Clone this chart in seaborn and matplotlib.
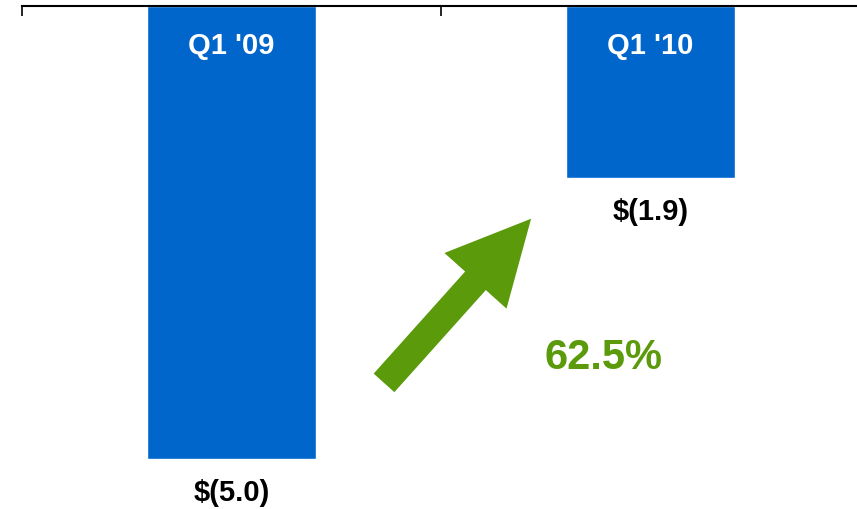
import matplotlib
matplotlib.use('Agg')
from matplotlib import pyplot as plt
import seaborn as sns
import pandas as pd

# data
quarters = ["Q1 '09", "Q1 '10"]
values = [-5.0, -1.9]
value_labels = ['$(5.0)', '$(1.9)']
change_label = '62.5%'

bar_color = '#0066CC'
green = '#5B9A0B'

sns.set_theme(style='white')
plt.rcParams['font.family'] = ['Liberation Sans', 'DejaVu Sans']

df = pd.DataFrame({'quarter': quarters, 'value': values})

fig = plt.figure(figsize=(8.57, 5.09), dpi=100)
ax = fig.add_axes([22 / 857, 0.009, 838 / 857, 0.980])

sns.barplot(data=df, x='quarter', y='value', color=bar_color, width=0.405,
            saturation=1, ax=ax, zorder=1)

ax.set_xlim(-0.5, 1.5)
ax.set_ylim(-5.5, 0)
ax.set_xlabel('')
ax.set_ylabel('')
ax.set_yticks([])

# top axis line with separator ticks
for side in ['left', 'right', 'bottom']:
    ax.spines[side].set_visible(False)
ax.spines['top'].set_visible(True)
ax.spines['top'].set_color('black')
ax.spines['top'].set_linewidth(1.5)
ax.spines['top'].set_zorder(3)
ax.set_xticks([-0.5, 0.5, 1.5])
ax.set_xticklabels([])
ax.tick_params(axis='x', top=True, bottom=False, direction='in',
               length=7, width=1.2, color='black')

# labels inside and below bars
for i, (q, v, lab) in enumerate(zip(quarters, values, value_labels)):
    ax.text(i, -0.45, q, ha='center', va='center', color='white',
            fontsize=21, fontweight='bold')
    ax.annotate(lab, xy=(i, v), xytext=(0, -24.5), textcoords='offset points',
                ha='center', va='center', color='black',
                fontsize=21, fontweight='bold')

# change arrow
ax.annotate('', xy=(0.715, -2.35), xytext=(0.364, -4.16),
            arrowprops=dict(arrowstyle='simple,head_width=60,head_length=60,tail_width=20',
                            mutation_scale=1, color=green, shrinkA=0, shrinkB=0,
                            lw=0))
ax.text(0.887, -3.89, change_label, ha='center', va='center', color=green,
        fontsize=30, fontweight='bold')

fig.savefig('out.png', dpi=100)
